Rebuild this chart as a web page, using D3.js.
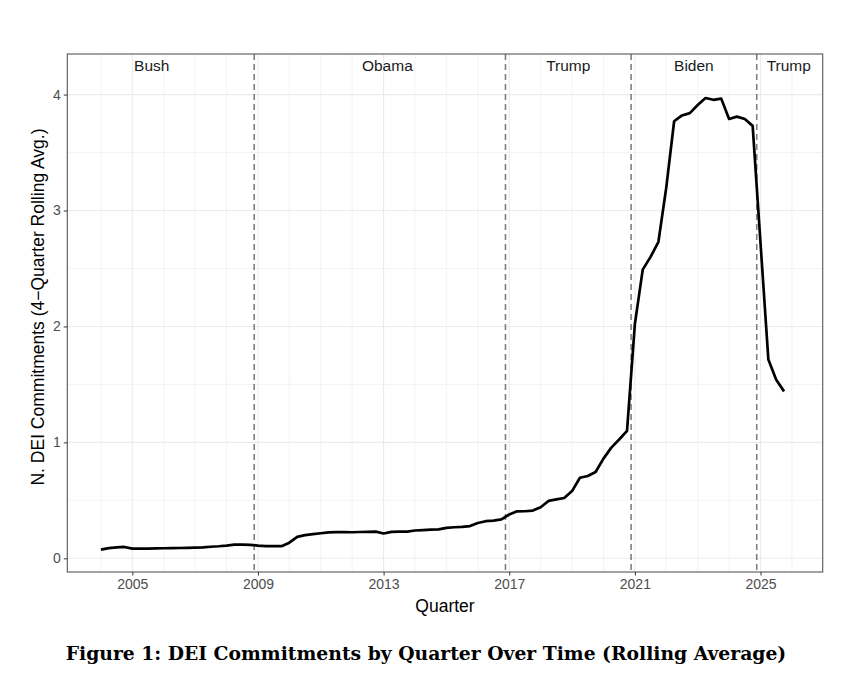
<!DOCTYPE html>
<html lang="en">
<head>
    <meta charset="UTF-8">
    <title>DEI Commitments by Quarter</title>
    <script src="https://d3js.org/d3.v7.min.js"></script>
    <style>
        body { margin: 0; background: #fff; }
        text { font-family: "Liberation Sans", Arial, sans-serif; }
        text.caption { font-family: "DejaVu Serif", "Liberation Serif", serif; font-weight: bold; }
    </style>
</head>
<body>
    <svg width="852" height="687"></svg>
    <script>
        // quarterly 4-quarter rolling average, 2004 Q1 .. 2025 Q4
        const startYear = 2004;
        const values = [
            0.075, 0.088, 0.095, 0.098,   // 2004
            0.084, 0.083, 0.084, 0.085,   // 2005
            0.087, 0.088, 0.089, 0.090,   // 2006
            0.092, 0.095, 0.100, 0.104,   // 2007
            0.110, 0.118, 0.118, 0.116,   // 2008
            0.110, 0.106, 0.106, 0.105,   // 2009
            0.135, 0.185, 0.200, 0.208,   // 2010
            0.216, 0.224, 0.226, 0.226,   // 2011
            0.225, 0.227, 0.228, 0.230,   // 2012
            0.214, 0.228, 0.230, 0.230,   // 2013
            0.240, 0.244, 0.248, 0.250,   // 2014
            0.262, 0.268, 0.272, 0.278,   // 2015
            0.305, 0.320, 0.325, 0.336,   // 2016
            0.378, 0.405, 0.406, 0.412,   // 2017
            0.440, 0.495, 0.508, 0.520,   // 2018
            0.580, 0.695, 0.710, 0.745,   // 2019
            0.860, 0.955, 1.025, 1.100,   // 2020
            2.020, 2.490, 2.600, 2.730,   // 2021
            3.200, 3.770, 3.820, 3.840,   // 2022
            3.910, 3.970, 3.955, 3.965,   // 2023
            3.790, 3.810, 3.790, 3.730,   // 2024
            2.720, 1.715, 1.540, 1.440    // 2025
        ];
        const xTicks = [2005, 2009, 2013, 2017, 2021, 2025];
        const yTicks = [0, 1, 2, 3, 4];
        const termStarts = [2008.88, 2016.88, 2020.88, 2024.88];
        const termNames = ["Bush", "Obama", "Trump", "Biden", "Trump"];
        const termLabelX = [2005.62, 2013.12, 2018.88, 2022.88, 2025.9];
        const termLabelY = 4.25;

        const data = values.map((v, i) => ({ t: startYear + i / 4, v: v }));

        const svg = d3.select("svg");
        const panel = { left: 67.3, right: 822.7, top: 54, bottom: 572 };

        const x = d3.scaleLinear().domain([2002.93, 2026.98]).range([panel.left, panel.right]);
        const y = d3.scaleLinear().domain([-0.118, 4.35]).range([panel.bottom, panel.top]);

        // grid
        const grid = svg.append("g");
        grid.selectAll(".gx").data(d3.range(2004, 2027)).enter().append("line")
            .attr("x1", d => x(d)).attr("x2", d => x(d))
            .attr("y1", panel.top).attr("y2", panel.bottom)
            .attr("stroke", "#ebebeb").attr("stroke-width", d => xTicks.includes(d) ? 1.1 : 0.6);
        grid.selectAll(".gy").data(d3.range(0, 4.01, 0.5)).enter().append("line")
            .attr("y1", d => y(d)).attr("y2", d => y(d))
            .attr("x1", panel.left).attr("x2", panel.right)
            .attr("stroke", "#ebebeb").attr("stroke-width", d => Number.isInteger(d) ? 1.1 : 0.6);

        // term boundaries
        svg.append("g").selectAll("line").data(termStarts).enter().append("line")
            .attr("x1", d => x(d)).attr("x2", d => x(d))
            .attr("y1", panel.top).attr("y2", panel.bottom)
            .attr("stroke", "#7f7f7f").attr("stroke-width", 1.6)
            .attr("stroke-dasharray", "6,4");

        svg.append("g").selectAll("text").data(termNames).enter().append("text")
            .attr("x", (d, i) => x(termLabelX[i]))
            .attr("y", y(termLabelY))
            .attr("dy", "0.36em")
            .attr("text-anchor", "middle")
            .attr("font-size", 15.5)
            .attr("fill", "#1a1a1a")
            .text(d => d);

        // line
        const line = d3.line().x(d => x(d.t)).y(d => y(d.v));
        svg.append("path").datum(data)
            .attr("d", line)
            .attr("fill", "none")
            .attr("stroke", "#000")
            .attr("stroke-width", 2.7)
            .attr("stroke-linejoin", "round");

        // panel border
        svg.append("rect")
            .attr("x", panel.left).attr("y", panel.top)
            .attr("width", panel.right - panel.left).attr("height", panel.bottom - panel.top)
            .attr("fill", "none").attr("stroke", "#555").attr("stroke-width", 1.1);

        // axes
        const xAxis = svg.append("g")
            .attr("transform", `translate(0,${panel.bottom})`)
            .call(d3.axisBottom(x).tickValues(xTicks).tickFormat(d3.format("d")).tickSize(3.5).tickPadding(4));
        const yAxis = svg.append("g")
            .attr("transform", `translate(${panel.left},0)`)
            .call(d3.axisLeft(y).tickValues(yTicks).tickFormat(d3.format("d")).tickSize(3.5).tickPadding(3));
        [xAxis, yAxis].forEach(g => {
            g.select(".domain").remove();
            g.selectAll(".tick line").attr("stroke", "#333");
            g.selectAll(".tick text").attr("fill", "#4d4d4d").attr("font-size", 14);
        });

        svg.append("text")
            .attr("x", (panel.left + panel.right) / 2).attr("y", 612)
            .attr("text-anchor", "middle").attr("font-size", 17.5).attr("fill", "#000")
            .text("Quarter");

        svg.append("text")
            .attr("transform", `translate(44,${(panel.top + panel.bottom) / 2 - 6}) rotate(-90)`)
            .attr("text-anchor", "middle").attr("font-size", 17.5).attr("fill", "#000")
            .text("N. DEI Commitments (4\u2212Quarter Rolling Avg.)");

        const cap = svg.append("text")
            .attr("class", "caption")
            .attr("x", 426).attr("y", 660)
            .attr("text-anchor", "middle")
            .attr("font-size", 17).attr("fill", "#000")
            .text("Figure 1: DEI Commitments by Quarter Over Time (Rolling Average)");
        const w = cap.node().getComputedTextLength();
        cap.attr("font-size", 17 * 721 / w);
    </script>
</body>
</html>
